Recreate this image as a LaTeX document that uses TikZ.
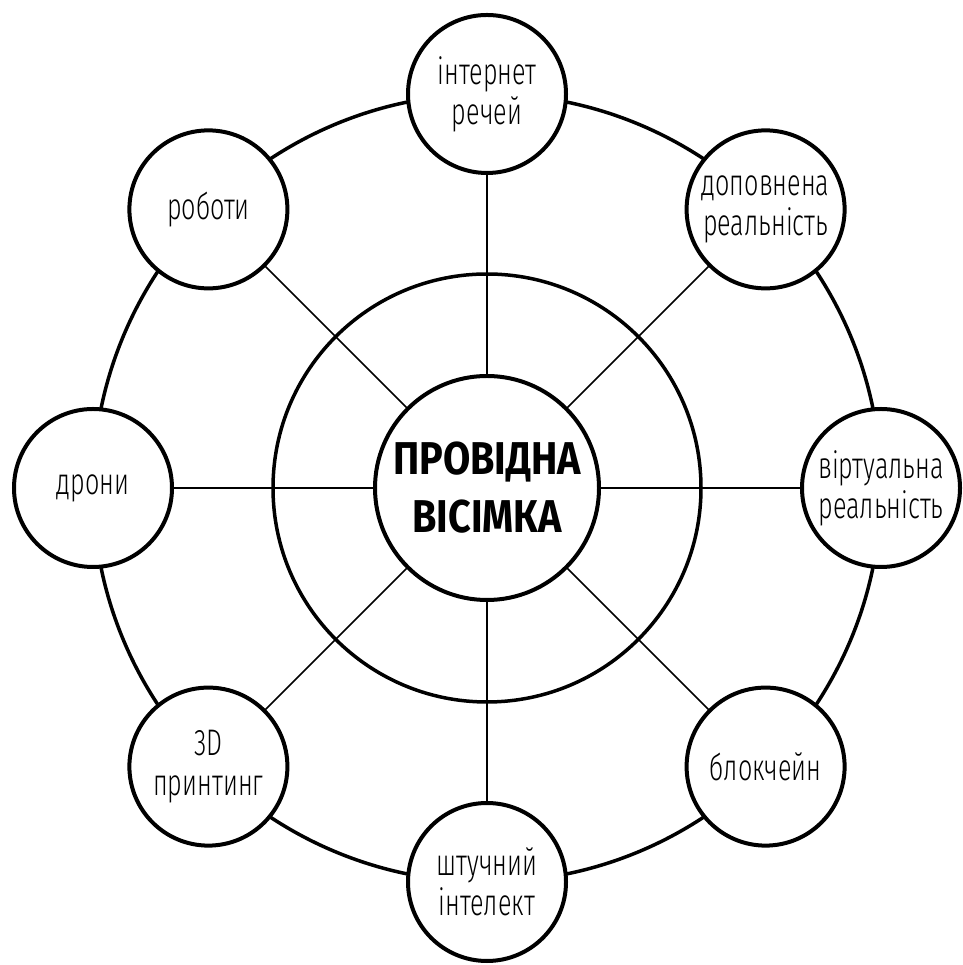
\documentclass[tikz,border=0pt]{standalone}
\usepackage{fontspec}
\usetikzlibrary{calc}
\setmainfont[FakeStretch=0.68]{Fira Sans Light}
\newfontfamily\boldfam[FakeStretch=0.86]{Fira Sans}
\begin{document}
\begin{tikzpicture}[x=1pt,y=1pt,
  sat/.style={circle,draw=black,line width=4pt,fill=white,minimum size=158pt,inner sep=0pt,align=center,font=\fontsize{37}{40}\selectfont},
  spoke/.style={line width=1.6pt},
  ring/.style={line width=3.5pt}]
\useasboundingbox (0,0) rectangle (962,965);
\coordinate (c) at (487,477);
\draw[ring] (c) circle (394);
\draw[ring] (c) circle (214);
\foreach \a/\n/\t in {90/n1/{інтернет\\речей},45/n2/{доповнена\\реальність},0/n3/{віртуальна\\реальність},-45/n4/{блокчейн},-90/n5/{штучний\\інтелект},-135/n6/{3D\\принтинг},180/n7/{дрони},135/n8/{роботи}}{
  \coordinate (p\n) at ($(c)+(\a:394)$);
  \draw[spoke] (c) -- (p\n);
}
\foreach \a/\n/\t in {90/n1/{інтернет\\речей},45/n2/{доповнена\\реальність},0/n3/{віртуальна\\реальність},-45/n4/{блокчейн},-90/n5/{штучний\\інтелект},-135/n6/{3D\\принтинг},180/n7/{дрони},135/n8/{роботи}}{
  \node[sat] (\n) at (p\n) {\t};
}
\node[circle,draw=black,line width=4pt,fill=white,minimum size=224pt,inner sep=0pt,align=center,font=\boldfam\bfseries\fontsize{46}{58}\selectfont] (center) at (c) {ПРОВІДНА\\ВІСІМКА};
\end{tikzpicture}
\end{document}
